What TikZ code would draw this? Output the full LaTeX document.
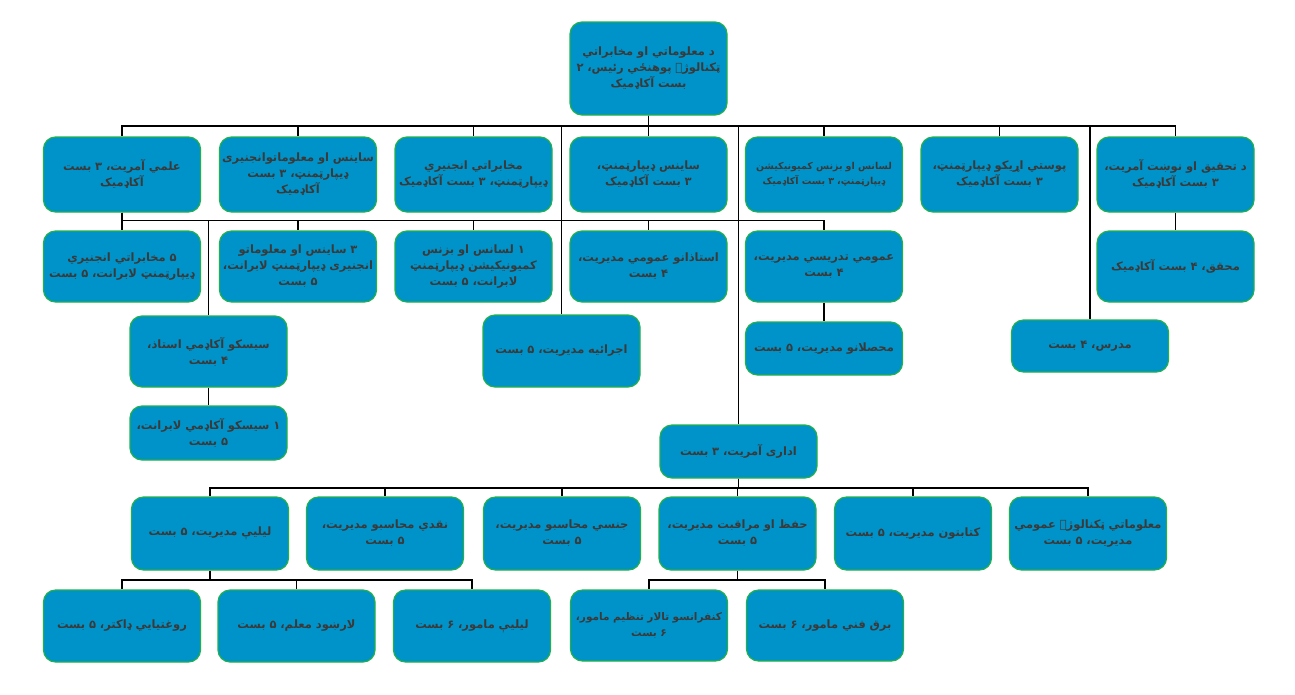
\documentclass[tikz,border=0pt]{standalone}
\usepackage{fontspec}
\usetikzlibrary{backgrounds}
\newfontfamily\arabicfont[Script=Arabic]{DejaVu Sans}
\TeXXeTstate=1
\newcommand\ar[1]{{\arabicfont\bfseries\beginR #1\endR}}
\definecolor{boxblue}{HTML}{0093C9}
\definecolor{boxgreen}{HTML}{22B04C}
\definecolor{txtgray}{HTML}{3A3A3A}
\tikzset{
  orgbox/.style={draw=boxgreen, line width=1.2pt, fill=boxblue, rounded corners=12pt,
    minimum width=157pt, minimum height=#1, text width=154pt, align=center,
    inner sep=1.5pt, text=txtgray, font=\fontsize{11.5}{16}\selectfont},
  orgbox/.default=73pt,
  smalltxt/.style={font=\fontsize{9.5}{15}\selectfont},
  midtxt/.style={font=\fontsize{10.5}{16}\selectfont},
  conn/.style={draw=black, line width=1.3pt}
}
\begin{document}
\begin{tikzpicture}[x=1pt,y=-1pt]
\useasboundingbox (0,0) rectangle (1295,694);
% root
\node[orgbox=93pt] (root) at (648.5,68.5) {\ar{د معلوماتي او مخابراتي}\\\ar{ټکنالوژۍ پوهنځي رئیس، ۲}\\\ar{بست  آکاډمیک}};
% row 1
\node[orgbox=75pt] (a1) at (122,174.5) {\ar{علمي آمریت، ۳ بست}\\\ar{آکاډمیک}};
\node[orgbox=75pt] (a2) at (298,174.5) {\ar{ساینس او معلوماتوانجنیری}\\\ar{ډیپارټمنټ، ۳ بست}\\\ar{آکاډمیک}};
\node[orgbox=75pt] (a3) at (473.5,174.5) {\ar{مخابراتي انجنيري}\\\ar{ډيپارټمنټ، ۳ بست آکاډمیک}};
\node[orgbox=75pt] (a4) at (648.5,174.5) {\ar{ساینس ډیپارټمنټ،}\\\ar{۳ بست  آکاډمیک}};
\node[orgbox=75pt, smalltxt] (a5) at (824,174.5) {\ar{لسانس او بزنس کمیونیکیشن}\\\ar{ډیپارټمنټ، ۳ بست آکاډمیک}};
\node[orgbox=75pt] (a6) at (999.5,174.5) {\ar{پوستي اړیکو ډیپارټمنټ،}\\\ar{۳ بست  آکاډمیک}};
\node[orgbox=75pt] (a7) at (1175.5,174.5) {\ar{د تحقیق او نوښت آمریت،}\\\ar{۳ بست آکاډمیک}};
% row 2
\node[orgbox=71pt] (b1) at (122,266.5) {\ar{۵ مخابراتي انجنيري}\\\ar{ډیپارټمنټ لابرانت، ۵ بست}};
\node[orgbox=71pt] (b2) at (298,266.5) {\ar{۳ ساینس او معلوماتو}\\\ar{انجنیری ډیپارټمنټ لابرانت،}\\\ar{۵ بست}};
\node[orgbox=71pt] (b3) at (473.5,266.5) {\ar{۱ لسانس او بزنس}\\\ar{کمیونیکیشن ډیپارټمنټ}\\\ar{لابرانت، ۵ بست}};
\node[orgbox=71pt] (b4) at (648.5,266.5) {\ar{استاذانو عمومي مدیریت،}\\\ar{۴ بست}};
\node[orgbox=71pt] (b5) at (824,266.5) {\ar{عمومي تدریسي مدیریت،}\\\ar{۴ بست}};
\node[orgbox=71pt] (b6) at (1175.5,266.5) {\ar{محقق، ۴ بست آکاډمیک}};
% middle
\node[orgbox=71pt] (cs1) at (208.5,351.5) {\ar{سیسکو آکاډمي استاذ،}\\\ar{۴ بست}};
\node[orgbox=54pt] (cs2) at (208.5,433) {\ar{۱ سیسکو آکاډمي لابرانت،}\\\ar{۵ بست}};
\node[orgbox=72pt] (ex) at (561.5,351) {\ar{اجرائیه مدیریت، ۵ بست}};
\node[orgbox=53pt] (st) at (824,348.5) {\ar{محصلانو مدیریت، ۵ بست}};
\node[orgbox=52pt] (md) at (1090,346) {\ar{مدرس، ۴ بست}};
\node[orgbox=53pt] (ad) at (738.5,451.5) {\ar{اداری آمریت، ۳ بست}};
% row 3
\node[orgbox=73pt] (c1) at (210,533.5) {\ar{لیلیې مدیریت، ۵ بست}};
\node[orgbox=73pt] (c2) at (385,533.5) {\ar{نقدي محاسبو مدیریت،}\\\ar{۵ بست}};
\node[orgbox=73pt] (c3) at (562,533.5) {\ar{جنسي محاسبو مدیریت،}\\\ar{۵ بست}};
\node[orgbox=73pt] (c4) at (737.5,533.5) {\ar{حفظ او مراقبت مدیریت،}\\\ar{۵ بست}};
\node[orgbox=73pt] (c5) at (913,533.5) {\ar{کتابتون مدیریت، ۵ بست}};
\node[orgbox=73pt] (c6) at (1088,533.5) {\ar{معلوماتي ټکنالوژۍ عمومي}\\\ar{مدیریت، ۵ بست}};
% row 4
\node[orgbox=72pt] (d1) at (122,626) {\ar{روغتیایي ډاکتر، ۵ بست}};
\node[orgbox=72pt] (d2) at (296.5,626) {\ar{لارښود معلم، ۵ بست}};
\node[orgbox=72pt] (d3) at (472,626) {\ar{لیلیې مامور، ۶ بست}};
\node[orgbox=71pt, midtxt] (d4) at (649,625.5) {\ar{کنفرانسو تالار تنظیم مامور،}\\\ar{۶ بست}};
\node[orgbox=71pt] (d5) at (825,625.5) {\ar{برق فني مامور، ۶ بست}};
% connectors
\begin{scope}[on background layer]
\foreach \n in {a1,a2,a3,a4,a5,a6,a7,ex,ad,md}
  \draw[conn] (root.south) -- ++(0,10.5) -| (\n.north);
\foreach \n in {b1,b2,b3,b4,b5,cs1}
  \draw[conn] (a1.south) -- ++(0,8) -| (\n.north);
\draw[conn] (a7) -- (b6);
\draw[conn] (cs1) -- (cs2);
\draw[conn] (b5) -- (st);
\foreach \n in {c1,c2,c3,c4,c5,c6}
  \draw[conn] (ad.south) -- ++(0,9.5) -| (\n.north);
\foreach \n in {d1,d2,d3}
  \draw[conn] (c1.south) -- ++(0,9.5) -| (\n.north);
\foreach \n in {d4,d5}
  \draw[conn] (c4.south) -- ++(0,9.5) -| (\n.north);
\end{scope}
\end{tikzpicture}
\end{document}
